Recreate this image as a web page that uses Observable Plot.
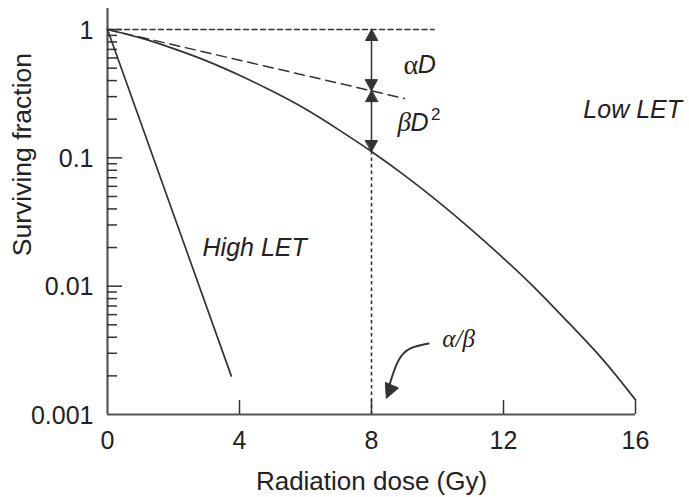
<!DOCTYPE html>
<html><head><meta charset="utf-8">
<script src="https://cdn.jsdelivr.net/npm/d3@7"></script>
<script src="https://cdn.jsdelivr.net/npm/@observablehq/plot@0.6"></script>
<style>body{margin:0;background:#fff}</style>
</head><body><div id="chart"></div>
<script>
// ---- data ----
const doseTicks = [0, 4, 8, 12, 16];
const yTickValues = [1, 0.1, 0.01, 0.001];
const yTickLabels = ["1", "0.1", "0.01", "0.001"];
const majorY = [1, 0.1, 0.01];
const minorY = [0.002,0.003,0.004,0.005,0.006,0.007,0.008,0.009,
                0.02,0.03,0.04,0.05,0.06,0.07,0.08,0.09,
                0.2,0.3,0.4,0.5,0.6,0.7,0.8,0.9];
// Low LET survival curve (read at whole Gy)
const lowDose = [0,1,2,3,4,5,6,7,8,9,10,11,12,13,14,15,16];
const lowSurv = [1,0.86,0.71,0.57,0.44,0.33,0.24,0.166,0.112,0.073,0.046,0.028,0.0165,0.0094,0.0051,0.0027,0.0013];
// High LET line
const highDose = [0, 3.75];
const highSurv = [1, 0.002];
// alpha (linear) component, dashed
const alphaDose = [0, 9];
const alphaSurv = [1, 0.29];
// reference line at S = 1
const unityDose = [0, 9.9];
const unitySurv = [1, 1];
// alpha/beta marker
const abDose = 8;
const abAlphaSurv = 0.334;
const abCurveSurv = 0.112;
// curved pointer to alpha/beta (annotation path)
const ptrDose = [9.73, 9.18, 8.82, 8.606, 8.53];
const ptrSurv = [0.00357, 0.00327, 0.00264, 0.00191, 0.00165];
const ptrTip = {x: 8.45, y: 0.00134};

const W = 689, H = 497, ML = 107, MR = 54, MT = 8, MB = 83;
const FW = W - ML - MR, FH = H - MT - MB;
const ink = "#333";
const txt = "#222";
const sans = "'Liberation Sans', Arial, Helvetica, sans-serif";
const serif = "'Liberation Serif', 'Times New Roman', serif";

const low = lowDose.map((x, i) => ({x, y: lowSurv[i]}));
const high = highDose.map((x, i) => ({x, y: highSurv[i]}));
const alph = alphaDose.map((x, i) => ({x, y: alphaSurv[i]}));
const unity = unityDose.map((x, i) => ({x, y: unitySurv[i]}));
const ptr = ptrDose.map((x, i) => ({x, y: ptrSurv[i]}));

const tri = {draw(ctx) { ctx.moveTo(0, 0); ctx.lineTo(-6, 11); ctx.lineTo(6, 11); ctx.closePath(); }};
const bigTri = {draw(ctx) { ctx.moveTo(0, 0); ctx.lineTo(-7, 14); ctx.lineTo(7, 14); ctx.closePath(); }};
const heads = [
  {x: abDose, y: 1, r: 0},
  {x: abDose, y: abAlphaSurv, r: 180},
  {x: abDose, y: abAlphaSurv, r: 0},
  {x: abDose, y: abCurveSurv, r: 180}
];

const chart = Plot.plot({
  width: W, height: H,
  marginLeft: ML, marginRight: MR, marginTop: MT, marginBottom: MB,
  style: {fontFamily: sans, background: "#fff", overflow: "visible"},
  x: {domain: [0, 16], axis: null},
  y: {type: "log", domain: [0.001, 1.458], axis: null},
  marks: [
    // axes
    Plot.ruleX([0], {stroke: "#555", strokeWidth: 2.2}),
    Plot.ruleY([0.001], {stroke: "#555", strokeWidth: 2.2}),
    Plot.tickX(doseTicks.slice(1), {x: d => d, insetTop: FH - 14, stroke: ink, strokeWidth: 1.5}),
    Plot.tickY(majorY, {y: d => d, insetRight: FW - 15, stroke: ink, strokeWidth: 1.5}),
    Plot.tickY(minorY, {y: d => d, insetRight: FW - 10, stroke: ink, strokeWidth: 1.5}),
    Plot.text(doseTicks, {x: d => d, y: 0.001, text: d => String(d), dy: 26, fontSize: 25, fill: txt}),
    Plot.text(yTickValues, {x: 0, y: d => d, text: (d, i) => yTickLabels[i], dx: -14, dy: 1, textAnchor: "end", fontSize: 25, fill: txt}),
    Plot.text(["Radiation dose (Gy)"], {x: 8, y: 0.001, dy: 67, fontSize: 26, fill: txt}),
    Plot.text(["Surviving fraction"], {x: 0, y: 0.106, dx: -85, rotate: -90, fontSize: 26.5, fill: txt}),
    // reference lines
    Plot.line(unity, {x: "x", y: "y", stroke: ink, strokeWidth: 1.6, strokeDasharray: "5,3.5"}),
    Plot.ruleX([abDose], {y1: abCurveSurv, y2: 0.001, stroke: ink, strokeWidth: 1.6, strokeDasharray: "3.5,3"}),
    Plot.line(alph, {x: "x", y: "y", stroke: ink, strokeWidth: 1.5, strokeDasharray: "10,6"}),
    // curves
    Plot.line(low, {x: "x", y: "y", curve: "natural", stroke: ink, strokeWidth: 1.7}),
    Plot.line(high, {x: "x", y: "y", stroke: ink, strokeWidth: 1.7}),
    // alpha D / beta D^2 arrows
    Plot.ruleX([abDose], {y1: 1, y2: abCurveSurv, stroke: ink, strokeWidth: 1.5}),
    Plot.line(ptr, {x: "x", y: "y", curve: "natural", stroke: ink, strokeWidth: 2}),
    Plot.vector(heads, {x: "x", y: "y", rotate: "r", length: 11, anchor: "start", shape: tri, fill: ink, stroke: ink, strokeWidth: 1}),
    Plot.vector([ptrTip], {x: "x", y: "y", rotate: 203, length: 14, anchor: "start", shape: bigTri, fill: ink, stroke: ink, strokeWidth: 1}),
    // labels
    Plot.text(["α"], {x: 8.97, y: 0.533, textAnchor: "start", fontSize: 28, fontFamily: serif, fill: txt}),
    Plot.text(["D"], {x: 9.4, y: 0.533, textAnchor: "start", fontSize: 25, fontStyle: "italic", fill: txt}),
    Plot.text(["β"], {x: 8.79, y: 0.188, textAnchor: "start", fontSize: 27, fontStyle: "italic", fontFamily: serif, fill: txt}),
    Plot.text(["D"], {x: 9.18, y: 0.188, textAnchor: "start", fontSize: 25, fontStyle: "italic", fill: txt}),
    Plot.text(["2"], {x: 9.8, y: 0.218, textAnchor: "start", fontSize: 17, fill: txt}),
    Plot.text(["Low LET"], {x: 14.42, y: 0.238, textAnchor: "start", fontSize: 25, fontStyle: "italic", fill: txt}),
    Plot.text(["High LET"], {x: 2.88, y: 0.02, textAnchor: "start", fontSize: 25, fontStyle: "italic", fill: txt}),
    Plot.text(["α/β"], {x: 10.64, y: 0.00391, fontSize: 25, fontStyle: "italic", fontFamily: serif, fill: txt})
  ]
});
document.getElementById("chart").appendChild(chart);
</script>
</body></html>
